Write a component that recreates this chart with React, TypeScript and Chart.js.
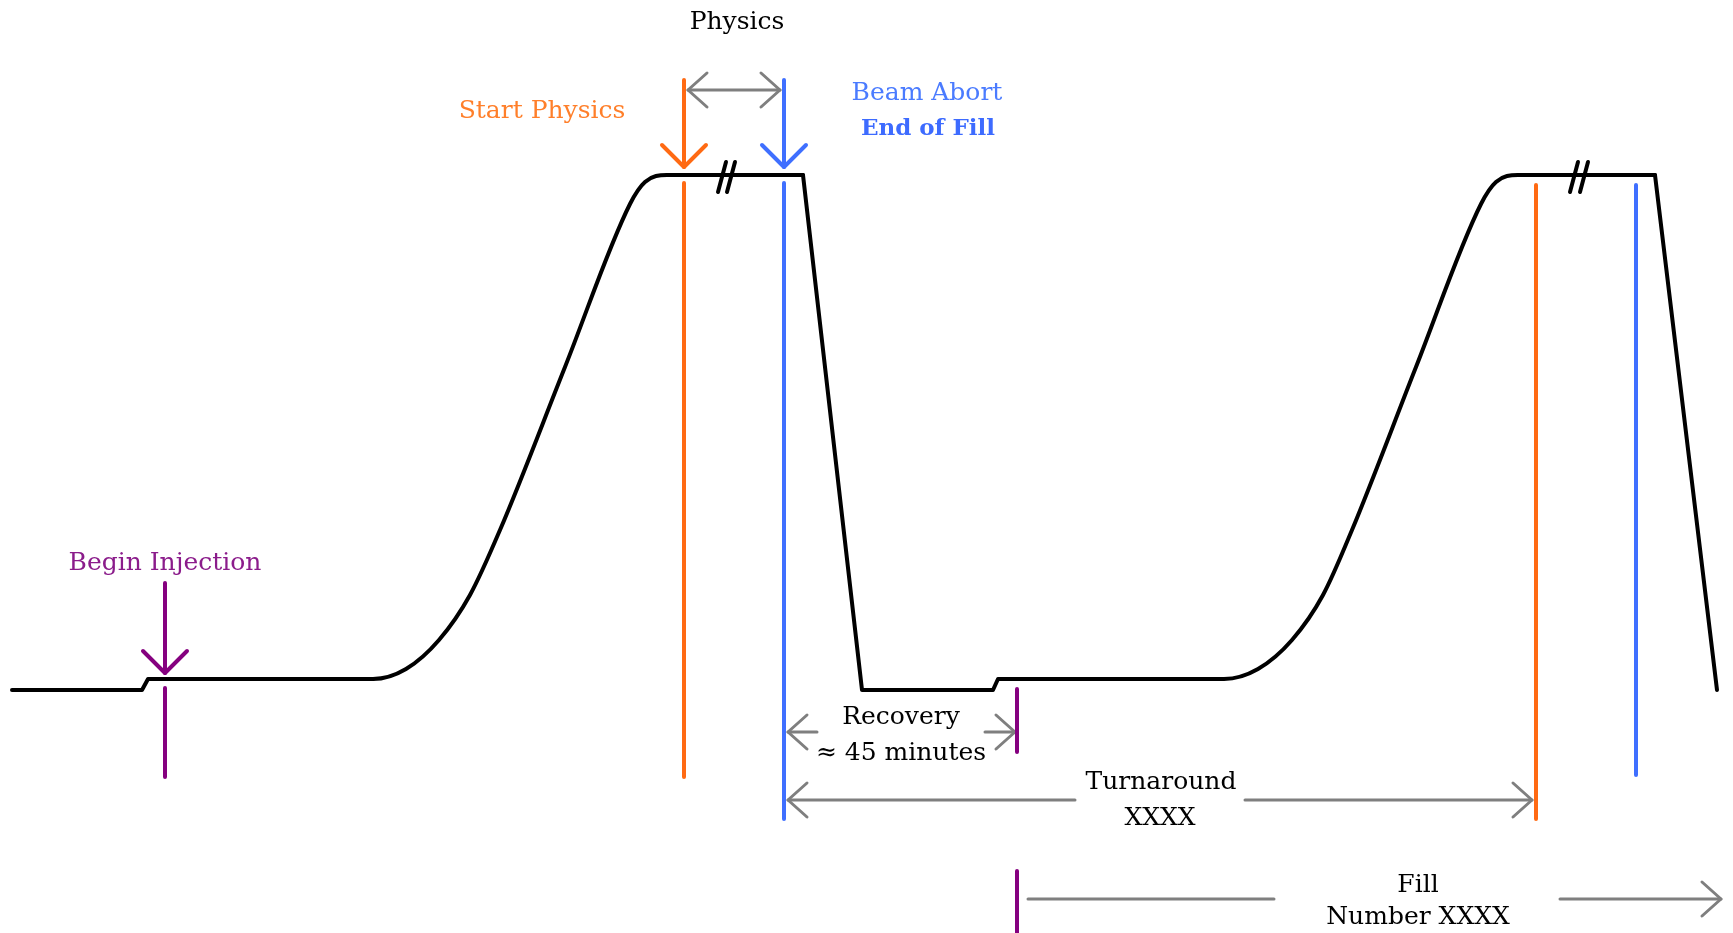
import React, { useEffect, useRef } from "react";
import { Chart, registerables } from "chart.js";

Chart.register(...registerables);

type P = [number, number];

// x = time (arbitrary units), y = beam level (arbitrary units, 0 = no beam)
const preInjection: P[] = [[12, 0], [142, 0], [148, 11], [373, 11]];
const rampUp1: P[] = [[300, 11], [373, 11], [406, 21], [439, 50], [470, 95], [500, 160], [565, 323], [630, 486], [645, 508], [667, 515], [720, 515]];
const flatTop1: P[] = [[667, 515], [803, 515]];
const dump1: P[] = [[803, 515], [862, 0], [993, 0], [998, 11], [1223, 11]];
const rampUp2: P[] = [[1150, 11], [1224, 11], [1258, 21], [1292, 50], [1323, 95], [1352, 160], [1416, 323], [1481, 486], [1496, 508], [1518, 515], [1570, 515]];
const flatTop2: P[] = [[1518, 515], [1655, 515]];
const dump2: P[] = [[1655, 515], [1717, 0]];
const breakMarks: P[][] = [
  [[718, 498], [726, 528]],
  [[727, 498], [735, 528]],
  [[1570, 498], [1578, 528]],
  [[1580, 498], [1588, 528]],
];

// event marker lines [time, level]
const injectionMarks: P[][] = [[[165, 2], [165, -87]], [[1017, 1], [1017, -62]], [[1017, -181], [1017, -243]]];
const startPhysicsMarks: P[][] = [[[684, 507], [684, -87]], [[1536, 505], [1536, -129]]];
const beamAbortMarks: P[][] = [[[784, 507], [784, -129]], [[1636, 505], [1636, -85]]];

// downward arrows: time, top level, tip level
const injectionArrow = { t: 165, top: 107, tip: 17 };
const startArrow = { t: 684, top: 610, tip: 523 };
const abortArrow = { t: 784, top: 610, tip: 523 };

// interval arrows
const spans = [
  { level: 600, from: 688, to: 780, gap: null as null | P, leftHead: true },
  { level: -42, from: 788, to: 1015, gap: [817, 985] as P, leftHead: true },
  { level: -110, from: 788, to: 1532, gap: [1075, 1245] as P, leftHead: true },
  { level: -209, from: 1028, to: 1721, gap: [1274, 1560] as P, leftHead: false },
];

const labelTexts = ["Physics", "Start Physics", "Beam Abort", "End of Fill", "Begin Injection", "Recovery", "≈ 45 minutes", "Turnaround", "XXXX", "Fill", "Number XXXX"];
const labelTimes = [737, 542, 927, 928, 165, 901, 901, 1161, 1160, 1418, 1418];
const labelLevels = [661, 572, 590, 555, 120, -34, -70, -99, -135, -202, -234];
const labelColors = ["#000000", "#FF7F2A", "#4A7BFF", "#3D6BFF", "#8B1C8B", "#000000", "#000000", "#000000", "#000000", "#000000", "#000000"];
const labelBold = [false, false, false, true, false, false, false, false, false, false, false];

const BLACK = "#000000";
const ORANGE = "#FF6A13";
const BLUE = "#3F6FFF";
const PURPLE = "#85007F";
const GRAY = "#7F7F7F";

const toPts = (a: P[]) => a.map(([x, y]) => ({ x, y }));

function lineDs(points: P[], color: string, width: number, smooth = false) {
  return {
    data: toPts(points),
    borderColor: color,
    borderWidth: width,
    pointRadius: 0,
    fill: false,
    borderCapStyle: "round" as const,
    borderJoinStyle: "round" as const,
    tension: 0,
    cubicInterpolationMode: smooth ? ("monotone" as const) : ("default" as const),
  };
}

function downArrow(a: { t: number; top: number; tip: number }, color: string) {
  const arm = 22;
  return [
    lineDs([[a.t, a.top], [a.t, a.tip]], color, 4),
    lineDs([[a.t - arm, a.tip + arm], [a.t, a.tip], [a.t + arm, a.tip + arm]], color, 4),
  ];
}

function spanDs(s: typeof spans[number]) {
  const back = 19, half = 17;
  const out: any[] = [];
  if (s.gap) {
    out.push(lineDs([[s.from, s.level], [s.gap[0], s.level]], GRAY, 3));
    out.push(lineDs([[s.gap[1], s.level], [s.to, s.level]], GRAY, 3));
  } else {
    out.push(lineDs([[s.from, s.level], [s.to, s.level]], GRAY, 3));
  }
  if (s.leftHead) {
    out.push(lineDs([[s.from + back, s.level + half], [s.from, s.level], [s.from + back, s.level - half]], GRAY, 3));
  }
  out.push(lineDs([[s.to - back, s.level + half], [s.to, s.level], [s.to - back, s.level - half]], GRAY, 3));
  return out;
}

const labelPlugin = {
  id: "diagramLabels",
  afterDatasetsDraw(chart: any) {
    const { ctx, scales } = chart;
    ctx.save();
    ctx.textAlign = "center";
    ctx.textBaseline = "alphabetic";
    labelTexts.forEach((txt, i) => {
      ctx.font = `${labelBold[i] ? "bold " : ""}${labelBold[i] ? 23 : 25}px "DejaVu Serif", serif`;
      ctx.fillStyle = labelColors[i];
      ctx.fillText(txt, scales.x.getPixelForValue(labelTimes[i]), scales.y.getPixelForValue(labelLevels[i]));
    });
    ctx.restore();
  },
};

export default function App() {
  const ref = useRef<HTMLCanvasElement | null>(null);
  useEffect(() => {
    if (!ref.current) return;
    const datasets: any[] = [
      lineDs(preInjection, BLACK, 4),
      lineDs(rampUp1, BLACK, 4, true),
      lineDs(flatTop1, BLACK, 4),
      lineDs(dump1, BLACK, 4),
      lineDs(rampUp2, BLACK, 4, true),
      lineDs(flatTop2, BLACK, 4),
      lineDs(dump2, BLACK, 4),
      ...breakMarks.map((b) => lineDs(b, BLACK, 4)),
      ...injectionMarks.map((m) => lineDs(m, PURPLE, 4)),
      ...startPhysicsMarks.map((m) => lineDs(m, ORANGE, 4)),
      ...beamAbortMarks.map((m) => lineDs(m, BLUE, 4)),
      ...downArrow(injectionArrow, PURPLE),
      ...downArrow(startArrow, ORANGE),
      ...downArrow(abortArrow, BLUE),
      ...spans.flatMap(spanDs),
    ];
    const chart = new Chart(ref.current, {
      type: "line",
      data: { datasets },
      options: {
        animation: false,
        responsive: true,
        maintainAspectRatio: false,
        devicePixelRatio: 1,
        events: [],
        layout: { padding: 0 },
        plugins: { legend: { display: false }, tooltip: { enabled: false } },
        scales: {
          x: { type: "linear", min: 0, max: 1733, display: false },
          y: { type: "linear", min: -243, max: 690, display: false },
        },
      },
      plugins: [labelPlugin],
    });
    return () => chart.destroy();
  }, []);
  return (
    <div style={{ position: "fixed", left: 0, top: 0, width: "100vw", height: "100vh", background: "#ffffff" }}>
      <canvas ref={ref} />
    </div>
  );
}
